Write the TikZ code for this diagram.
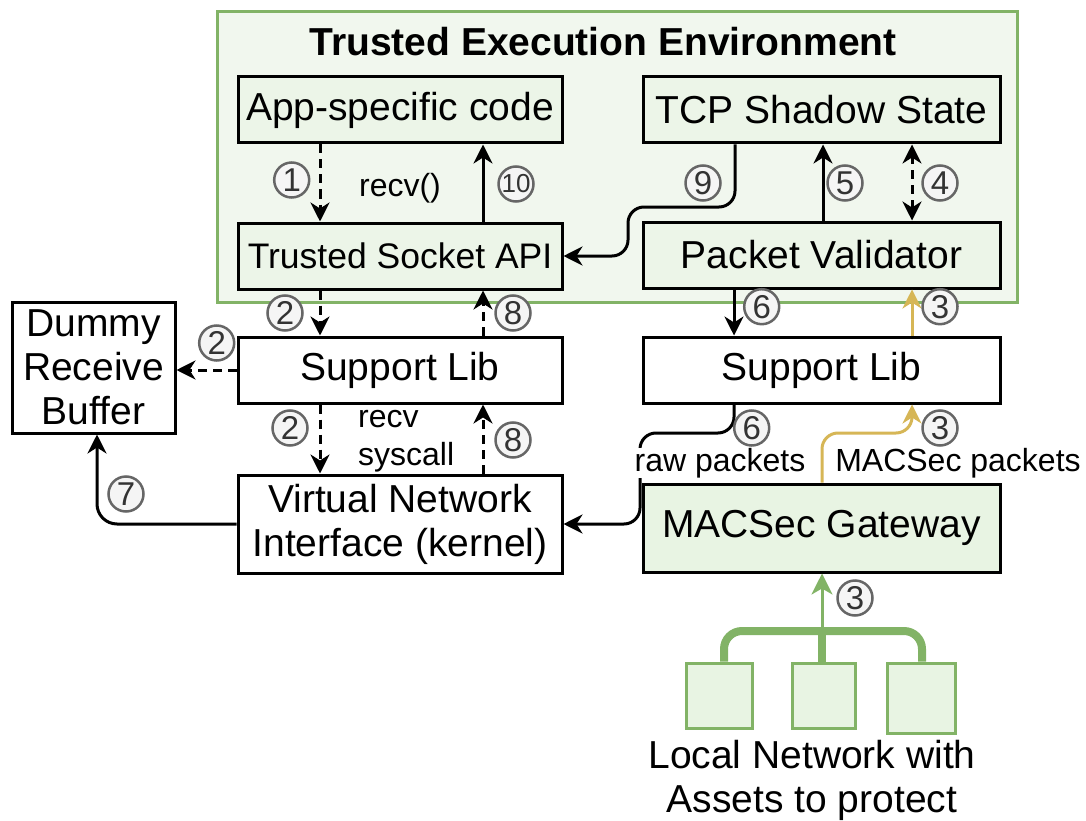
\documentclass[tikz,border=0pt]{standalone}
\usepackage{fontspec}
\setmainfont{Liberation Sans}
\usetikzlibrary{arrows.meta,calc}
\definecolor{teefill}{HTML}{F1F7EE}
\definecolor{boxfill}{HTML}{ECF5E8}
\definecolor{gwfill}{HTML}{E8F4E3}
\definecolor{grn}{HTML}{82B366}
\definecolor{gold}{HTML}{D6B656}
\definecolor{numgray}{HTML}{666666}
\definecolor{numfill}{HTML}{F5F5F5}
\definecolor{numtext}{HTML}{333333}
\begin{document}
\begin{tikzpicture}[x=1pt,y=-1pt,
  bigfont/.style={font=\fontsize{39}{44}\selectfont},
  box/.style={draw=black, line width=3pt, inner sep=0pt, bigfont, align=center},
  greenbox/.style={box, fill=boxfill},
  whitebox/.style={box, fill=white},
  lbl/.style={font=\fontsize{32}{38}\selectfont, inner sep=0pt},
  num/.style={circle, draw=numgray, fill=numfill, line width=2.5pt, minimum size=35pt,
    inner sep=0pt, text=numtext, font=\fontsize{33}{33}\selectfont},
  tip/.style={-{Stealth[length=19pt,width=19pt,inset=6pt]}},
  arr/.style={line width=3pt, tip},
  darr/.style={arr, dash pattern=on 9pt off 6pt},
  goldarr/.style={arr, draw=gold, -{Stealth[length=19pt,width=19pt,inset=6pt,fill=gold]}},
  bus/.style={draw=grn, line width=8pt, rounded corners=18pt},
  greenarr/.style={draw=grn, line width=3pt, -{Stealth[length=21pt,width=21pt,inset=6pt,fill=grn]}}]
\useasboundingbox (0,0) rectangle (1086,821);

% trusted execution environment
\node[draw=grn, fill=teefill, line width=3pt, minimum width=800pt, minimum height=290pt] (tee) at (617,157) {};
\node[font=\bfseries\fontsize{39}{44}\selectfont] (title) at (603,42) {Trusted Execution Environment};

% components
\node[greenbox, minimum width=324pt, minimum height=66pt] (app) at (400,110) {App-specific code};
\node[greenbox, minimum width=357pt, minimum height=66pt] (tcp) at (821.5,110) {TCP Shadow State};
\node[greenbox, minimum width=324pt, minimum height=66pt, font=\fontsize{35.5}{40}\selectfont] (tsa) at (400,256) {Trusted Socket API};
\node[greenbox, minimum width=357pt, minimum height=66pt] (pv) at (821.5,255) {Packet Validator};
\node[whitebox, minimum width=324pt, minimum height=66pt] (slL) at (400,370) {Support Lib};
\node[whitebox, minimum width=357pt, minimum height=66pt] (slR) at (821.5,370) {Support Lib};
\node[whitebox, minimum width=163pt, minimum height=131pt] (dummy) at (93.5,367.5) {Dummy\\Receive\\Buffer};
\node[whitebox, minimum width=324pt, minimum height=98pt] (vni) at (400,524) {Virtual Network\\Interface (kernel)};
\node[box, fill=gwfill, minimum width=357pt, minimum height=88pt] (gw) at (821.5,528) {MACSec Gateway};

% local network
\coordinate (bj) at (822,631);
\coordinate (bx1) at (724,0);
\coordinate (bx3) at (922,0);
\node[draw=grn, fill=gwfill, line width=3pt, minimum width=66pt, minimum height=65pt] (sq1) at (719,695.5) {};
\node[draw=grn, fill=gwfill, line width=3pt, minimum width=63pt, minimum height=65pt] (sq2) at (823.5,695.5) {};
\node[draw=grn, fill=gwfill, line width=3pt, minimum width=68pt, minimum height=70pt] (sq3) at (921,698) {};
\draw[bus] (sq1.north -| bx1) |- (bj) -| (sq3.north -| bx3);
\draw[bus] (sq2.north -| bj) -- (bj);
\draw[greenarr] (bj) -- (gw.south -| bj);
\node[bigfont, align=center, inner sep=0pt] (lan) at (812,780) {Local Network with\\Assets to protect};

% x positions of the vertical connectors
\coordinate (xa) at (320,0);
\coordinate (xb) at (483,0);
\coordinate (x9) at (735,0);
\coordinate (x5) at (823,0);
\coordinate (x4) at (912,0);
\coordinate (x6) at (734,0);
\coordinate (x3g) at (822,0);
\coordinate (x7) at (97,0);
\coordinate (c9) at (628,207);
\coordinate (c6) at (640,433);
\coordinate (c3) at (912,433);

% connectors
\draw[darr] (app.south -| xa) -- (tsa.north -| xa);
\draw[arr] (tsa.north -| xb) -- (app.south -| xb);
\draw[arr, rounded corners=16pt] (tcp.south -| x9) |- (c9) |- (tsa.east);
\draw[arr] (pv.north -| x5) -- (tcp.south -| x5);
\draw[darr, {Stealth[length=19pt,width=19pt,inset=6pt]}-{Stealth[length=19pt,width=19pt,inset=6pt]}] (pv.north -| x4) -- (tcp.south -| x4);
\draw[darr] (tsa.south -| xa) -- (slL.north -| xa);
\draw[darr] (slL.north -| xb) -- (tsa.south -| xb);
\draw[darr] (slL.west) -- (slL.west -| dummy.east);
\draw[darr] (slL.south -| xa) -- (vni.north -| xa);
\draw[darr] (vni.north -| xb) -- (slL.south -| xb);
\draw[arr, rounded corners=20pt] (vni.west) -| (dummy.south -| x7);
\draw[arr] (pv.south -| x6) -- (slR.north -| x6);
\draw[goldarr] (slR.north -| x4) -- (pv.south -| x4);
\draw[arr, rounded corners=16pt] (slR.south -| x6) |- (c6) |- (vni.east);
\draw[goldarr, rounded corners=16pt] (gw.north -| x3g) |- (c3) -- (slR.south -| x4);

% connector labels
\node[lbl] (lrecv) at (400,188) {recv()};
\node[lbl, anchor=west, align=left, font=\fontsize{32}{38}\selectfont] (lsys) at (358,441) {recv\\syscall};
\node[lbl, fill=white, inner xsep=2pt] (lraw) at (720,463) {raw packets};
\node[lbl, fill=white, inner xsep=2pt] (lmac) at (958,463) {MACSec packets};

% step numbers
\node[num] (n1) at (291.7,180) {1};
\node[num, font=\fontsize{26}{26}\selectfont] (n10) at (516,184) {10};
\node[num] (n9) at (703,183) {9};
\node[num] (n5) at (845,183) {5};
\node[num] (n4) at (940,183) {4};
\node[num] (n2a) at (285,313) {2};
\node[num] (n8a) at (513,313) {8};
\node[num] (n2b) at (216.7,343) {2};
\node[num] (n2c) at (290,428) {2};
\node[num] (n8b) at (513,440) {8};
\node[num] (n6a) at (761.7,306.7) {6};
\node[num] (n3a) at (940,306.7) {3};
\node[num] (n6b) at (751.7,428) {6};
\node[num] (n3b) at (940,428) {3};
\node[num] (n3c) at (855,598) {3};
\node[num] (n7) at (126,494) {7};
\end{tikzpicture}
\end{document}
